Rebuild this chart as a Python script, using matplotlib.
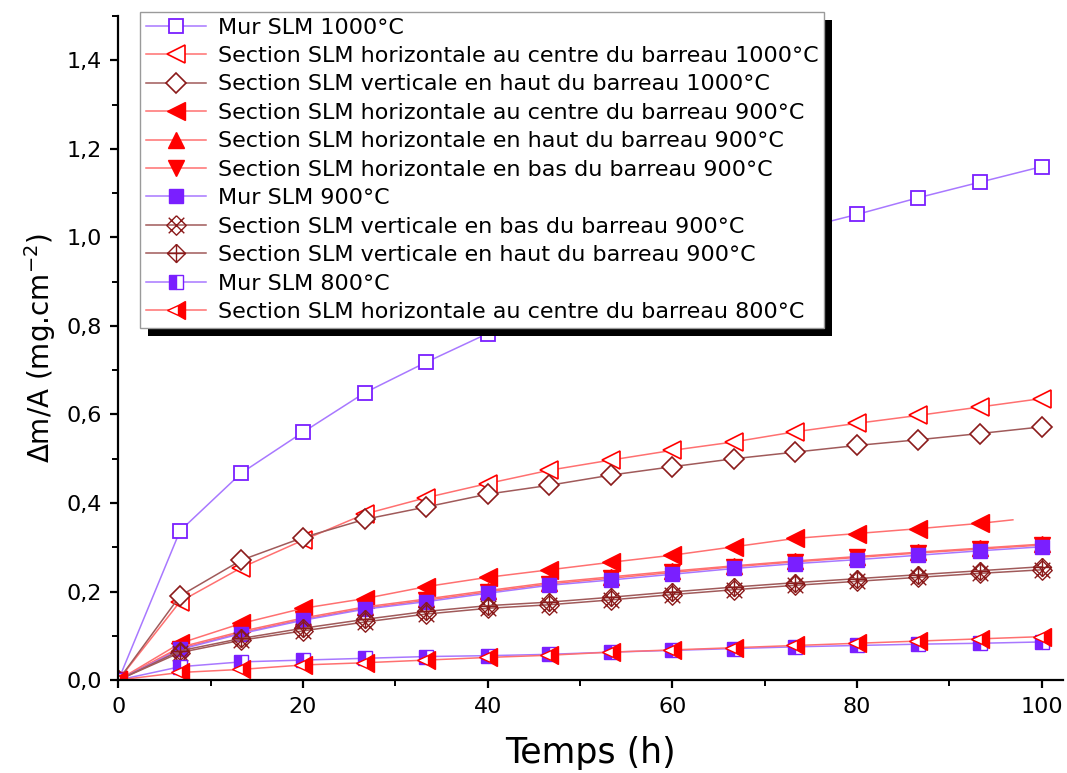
import matplotlib
matplotlib.use("Agg")
import matplotlib.pyplot as plt
import matplotlib.patheffects as pe
from matplotlib.path import Path
from matplotlib.ticker import MultipleLocator, FuncFormatter

plt.rcParams["mathtext.default"] = "regular"

# time points (h)
temps = [0, 6.67, 13.33, 20, 26.67, 33.33, 40, 46.67, 53.33, 60, 66.67, 73.33, 80, 86.67, 93.33, 100]
temps_900_centre = [0, 6.67, 13.33, 20, 26.67, 33.33, 40, 46.67, 53.33, 60, 66.67, 73.33, 80, 86.67, 93.33, 96.9]

# mass gain (mg.cm-2)
mur_1000 = [0, 0.337, 0.468, 0.560, 0.649, 0.718, 0.783, 0.840, 0.892, 0.938, 0.980, 1.017, 1.052, 1.090, 1.125, 1.160]
h_centre_1000 = [0, 0.177, 0.254, 0.316, 0.375, 0.412, 0.444, 0.474, 0.497, 0.519, 0.538, 0.561, 0.580, 0.598, 0.617, 0.636]
v_haut_1000 = [0, 0.190, 0.271, 0.322, 0.363, 0.391, 0.420, 0.440, 0.463, 0.482, 0.500, 0.515, 0.530, 0.543, 0.557, 0.572]
h_centre_900 = [0, 0.083, 0.128, 0.162, 0.184, 0.211, 0.232, 0.249, 0.266, 0.282, 0.301, 0.320, 0.331, 0.342, 0.354, 0.362]
h_haut_900 = [0, 0.074, 0.110, 0.140, 0.165, 0.183, 0.202, 0.220, 0.233, 0.246, 0.258, 0.269, 0.279, 0.289, 0.298, 0.307]
h_bas_900 = [0, 0.071, 0.107, 0.137, 0.162, 0.180, 0.199, 0.217, 0.230, 0.243, 0.256, 0.267, 0.277, 0.287, 0.296, 0.305]
mur_900 = [0, 0.069, 0.105, 0.135, 0.160, 0.177, 0.196, 0.214, 0.226, 0.239, 0.252, 0.263, 0.272, 0.282, 0.292, 0.301]
v_bas_900 = [0, 0.062, 0.090, 0.111, 0.131, 0.149, 0.162, 0.170, 0.181, 0.193, 0.204, 0.214, 0.223, 0.232, 0.241, 0.249]
v_haut_900 = [0, 0.066, 0.094, 0.117, 0.137, 0.155, 0.168, 0.176, 0.187, 0.199, 0.210, 0.220, 0.229, 0.238, 0.247, 0.256]
mur_800 = [0, 0.030, 0.041, 0.045, 0.049, 0.053, 0.055, 0.058, 0.063, 0.067, 0.071, 0.075, 0.078, 0.081, 0.083, 0.086]
h_centre_800 = [0, 0.017, 0.024, 0.034, 0.039, 0.045, 0.051, 0.056, 0.063, 0.068, 0.073, 0.078, 0.083, 0.088, 0.093, 0.098]

labels = [
    "Mur SLM 1000°C",
    "Section SLM horizontale au centre du barreau 1000°C",
    "Section SLM verticale en haut du barreau 1000°C",
    "Section SLM horizontale au centre du barreau 900°C",
    "Section SLM horizontale en haut du barreau 900°C",
    "Section SLM horizontale en bas du barreau 900°C",
    "Mur SLM 900°C",
    "Section SLM verticale en bas du barreau 900°C",
    "Section SLM verticale en haut du barreau 900°C",
    "Mur SLM 800°C",
    "Section SLM horizontale au centre du barreau 800°C",
]

# custom Origin-like markers
M, L = Path.MOVETO, Path.LINETO
x_diamond = Path(
    [(0, 1), (1, 0), (0, -1), (-1, 0), (0, 1),
     (-0.8, 0.8), (0.8, -0.8), (-0.8, -0.8), (0.8, 0.8)],
    [M, L, L, L, L, M, L, M, L])
plus_diamond = Path(
    [(0, 1), (1, 0), (0, -1), (-1, 0), (0, 1),
     (0, 1), (0, -1), (-1, 0), (1, 0)],
    [M, L, L, L, L, M, L, M, L])

purple_line, purple = "#a878ff", "#7a1fff"
red_line, red = "#ff7070", "#ff0000"
brown_line, brown = "#a05a5a", "#8b1a1a"

fig = plt.figure(figsize=(10.67, 7.73), dpi=100)
ax = fig.add_axes([0.111, 0.1203, 0.885, 0.8587])

lw = 1.1
ax.plot(temps, mur_1000, color=purple_line, lw=lw, marker="s", ms=10, mfc="white", mec=purple, mew=1.3, label=labels[0])
ax.plot(temps, h_centre_1000, color=red_line, lw=lw, marker="<", ms=13, mfc="white", mec=red, mew=1.2, label=labels[1])
ax.plot(temps, v_haut_1000, color=brown_line, lw=lw, marker="D", ms=10, mfc="white", mec=brown, mew=1.2, label=labels[2])
ax.plot(temps_900_centre, h_centre_900, color=red_line, lw=lw, marker="<", ms=13, mfc=red, mec=red,
        markevery=list(range(15)), label=labels[3])
ax.plot(temps, h_haut_900, color=red_line, lw=lw, marker="^", ms=12, mfc=red, mec=red, label=labels[4])
ax.plot(temps, h_bas_900, color=red_line, lw=lw, marker="v", ms=12, mfc=red, mec=red, label=labels[5])
ax.plot(temps, mur_900, color=purple_line, lw=lw, marker="s", ms=10, mfc=purple, mec=purple, label=labels[6])
ax.plot(temps, v_bas_900, color=brown_line, lw=lw, marker=x_diamond, ms=14, mfc="none", mec=brown, mew=1.0, label=labels[7])
ax.plot(temps, v_haut_900, color=brown_line, lw=lw, marker=plus_diamond, ms=13, mfc="none", mec=brown, mew=1.0, label=labels[8])
ax.plot(temps, mur_800, color=purple_line, lw=lw, marker="s", ms=10, fillstyle="left", mfc=purple,
        markerfacecoloralt="white", mec=purple, label=labels[9])
ax.plot(temps, h_centre_800, color=red_line, lw=lw, marker="<", ms=13, fillstyle="right", mfc=red,
        markerfacecoloralt="white", mec=red, label=labels[10])

ax.set_xlim(0, 102.3)
ax.set_ylim(0, 1.5)
ax.xaxis.set_major_locator(MultipleLocator(20))
ax.xaxis.set_minor_locator(MultipleLocator(10))
ax.yaxis.set_major_locator(MultipleLocator(0.2))
ax.yaxis.set_minor_locator(MultipleLocator(0.1))
ax.yaxis.set_major_formatter(FuncFormatter(lambda v, p: f"{v:.1f}".replace(".", ",")))
ax.xaxis.set_major_formatter(FuncFormatter(lambda v, p: f"{v:.0f}"))

for s in ["top", "right"]:
    ax.spines[s].set_visible(False)
for s in ["left", "bottom"]:
    ax.spines[s].set_linewidth(1.6)
ax.tick_params(which="major", direction="out", length=6, width=1.6, labelsize=16, pad=6)
ax.tick_params(which="minor", direction="out", length=4, width=1.4)

ax.set_xlabel("Temps (h)", fontsize=25, labelpad=14)
ax.set_ylabel(r"$\Delta$m/A (mg.cm$^{-2}$)", fontsize=20, labelpad=6)

leg = ax.legend(loc="upper left", bbox_to_anchor=(140 / 1067, 1 - 12 / 773), bbox_transform=fig.transFigure,
                fontsize=16, frameon=True, fancybox=False, framealpha=1, edgecolor="#9a9a9a",
                labelspacing=0.38, handlelength=2.7, handletextpad=0.55, borderpad=0.25, borderaxespad=0)
leg.get_frame().set_linewidth(1.0)
leg.get_frame().set_path_effects([pe.SimplePatchShadow(offset=(6, -6), shadow_rgbFace="black", alpha=1.0), pe.Normal()])

fig.savefig("out.png", dpi=100)
